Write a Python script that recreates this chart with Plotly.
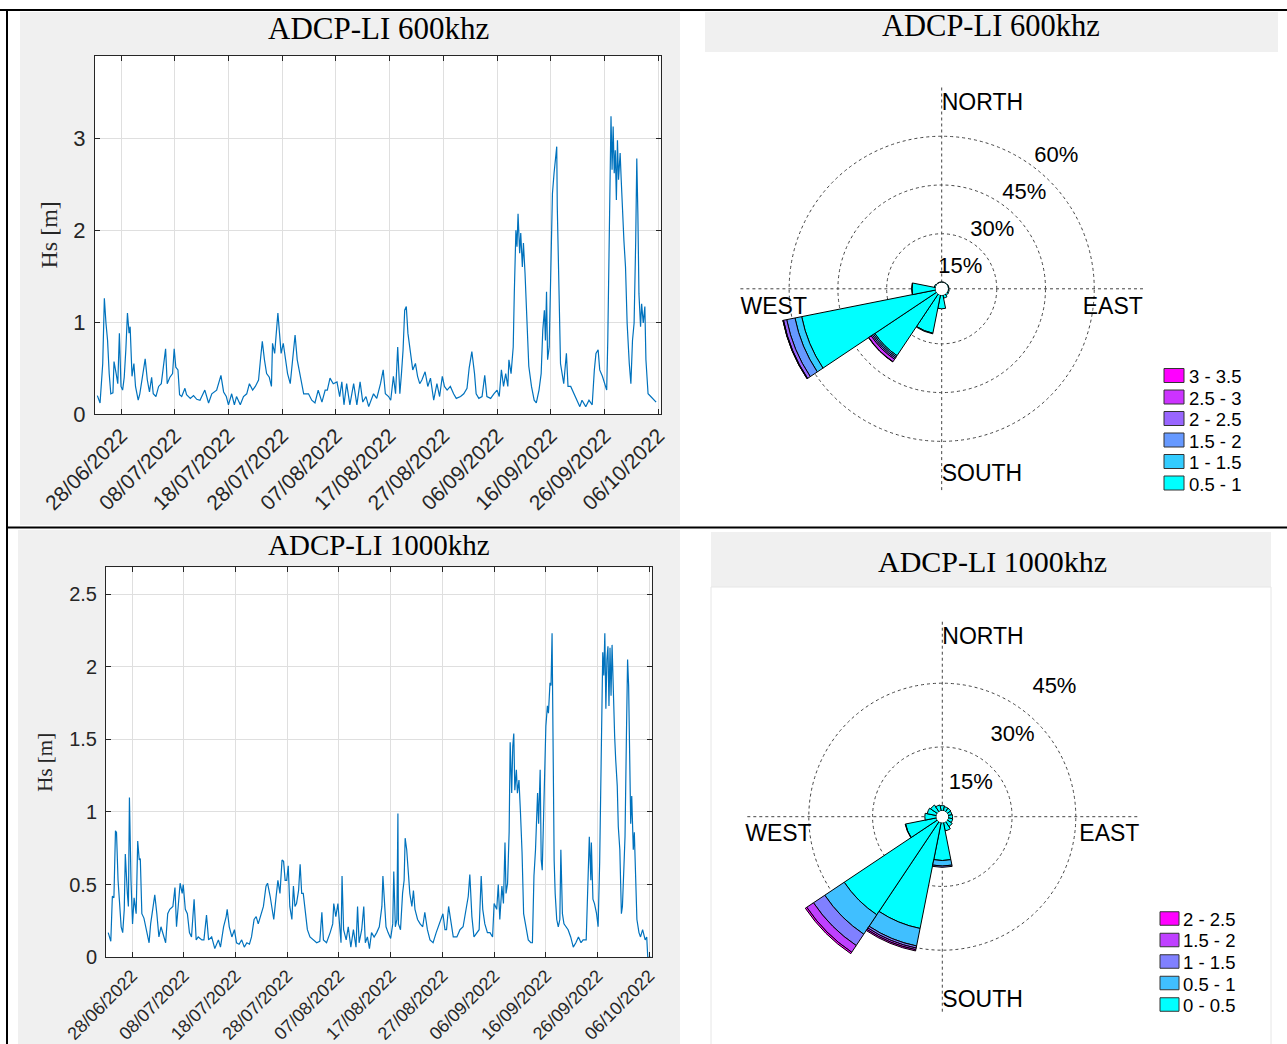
import pandas as pd
import plotly.graph_objects as go

W, H = 1287, 1044
START = pd.Timestamp("2022-06-23")

# ---------------- time series data (day offset from 23/06/2022, Hs in m) -------------
days_600 = [0.6, 1.1, 1.6, 1.9, 2.2, 2.5, 2.8, 3.1, 3.5, 3.7, 4.1, 4.4, 4.7, 5.0, 5.3, 5.6, 5.9, 6.2, 6.5, 6.7,
            7.05, 7.4, 7.7, 8.2, 8.5, 9.0, 9.5, 9.9, 10.3, 10.7, 11.0, 11.5, 12.0, 12.5, 12.9, 13.3, 13.6, 14.1,
            14.6, 14.9, 15.2, 15.6, 15.9, 16.3, 16.9, 17.2, 17.9, 18.5, 19.1, 19.7, 20.6, 21.3, 21.9, 22.8, 23.6,
            24.1, 24.6, 25.0, 25.6, 26.1, 26.5, 27.2, 27.8, 28.4, 28.9, 29.5, 30.0, 30.6, 31.0, 31.3, 31.7, 32.1,
            32.6, 33.0, 33.2, 33.6, 33.9, 34.2, 34.5, 34.8, 35.2, 35.7, 36.0, 36.5, 36.9, 37.4, 37.8, 38.3, 39.0,
            39.9, 40.5, 41.1, 41.7, 42.4, 43.0, 43.4, 43.9, 44.5, 45.2, 45.7, 46.1, 46.5, 47.0, 47.6, 48.3, 48.9,
            49.5, 50.0, 50.6, 51.1, 52.0, 52.6, 53.3, 53.8, 54.2, 54.8, 55.2, 55.7, 56.1, 56.5, 56.9, 57.2, 57.5,
            57.8, 58.1, 58.4, 58.7, 59.0, 59.3, 59.8, 60.2, 60.6, 61.0, 61.6, 62.1, 62.6, 63.2, 63.8, 64.3, 64.8,
            65.2, 65.7, 66.3, 66.9, 67.4, 68.2, 68.8, 69.4, 69.8, 70.3, 70.8, 71.1, 71.6, 72.2, 72.7, 73.1, 73.8,
            74.4, 75.0, 75.4, 75.8, 76.2, 76.6, 77.0, 77.2, 77.6, 78.0, 78.2, 78.5, 78.7, 78.9, 79.2, 79.4, 79.7,
            79.9, 80.2, 80.5, 80.9, 81.4, 81.9, 82.3, 82.8, 83.2, 83.5, 83.8, 84.0, 84.2, 84.4, 84.7, 84.9, 85.1,
            85.3, 85.6, 85.8, 86.1, 86.2, 86.5, 86.8, 87.1, 87.4, 87.9, 88.2, 88.7, 89.3, 89.9, 90.4, 90.8, 91.5,
            92.1, 92.7, 93.1, 93.4, 93.8, 94.1, 94.6, 95.1, 95.4, 95.6, 95.9, 96.1, 96.2, 96.4, 96.6, 96.8, 97.0,
            97.2, 97.4, 97.6, 97.9, 98.1, 98.4, 98.6, 98.9, 99.2, 99.6, 99.9, 100.2, 100.5, 100.8, 101.0, 101.2,
            101.4, 101.7, 101.9, 102.2, 102.5, 102.7, 103.1, 103.6, 104.0, 104.6]
hs_600 = [0.20, 0.12, 0.55, 1.26, 0.99, 0.80, 0.44, 0.22, 0.23, 0.57, 0.44, 0.33, 0.88, 0.30, 0.26, 0.40, 0.70,
          1.10, 0.88, 0.95, 0.41, 0.55, 0.30, 0.15, 0.22, 0.44, 0.60, 0.37, 0.24, 0.40, 0.22, 0.19, 0.30, 0.33,
          0.55, 0.71, 0.33, 0.40, 0.44, 0.71, 0.51, 0.48, 0.21, 0.19, 0.28, 0.21, 0.17, 0.20, 0.16, 0.15, 0.26,
          0.12, 0.22, 0.26, 0.42, 0.24, 0.19, 0.10, 0.22, 0.10, 0.19, 0.10, 0.19, 0.22, 0.33, 0.26, 0.30, 0.37,
          0.62, 0.79, 0.59, 0.44, 0.40, 0.30, 0.77, 0.66, 0.88, 1.10, 0.88, 0.66, 0.77, 0.59, 0.44, 0.33, 0.59,
          0.86, 0.59, 0.44, 0.22, 0.22, 0.15, 0.12, 0.26, 0.13, 0.26, 0.26, 0.39, 0.33, 0.35, 0.19, 0.35, 0.10,
          0.33, 0.10, 0.33, 0.10, 0.35, 0.13, 0.19, 0.08, 0.22, 0.17, 0.33, 0.48, 0.22, 0.19, 0.15, 0.41, 0.22,
          0.73, 0.22, 0.44, 0.70, 1.13, 1.17, 0.88, 0.73, 0.62, 0.48, 0.55, 0.41, 0.33, 0.37, 0.46, 0.30, 0.39,
          0.15, 0.33, 0.19, 0.41, 0.30, 0.26, 0.30, 0.22, 0.17, 0.19, 0.22, 0.28, 0.50, 0.68, 0.44, 0.22, 0.17,
          0.19, 0.42, 0.19, 0.17, 0.22, 0.26, 0.19, 0.48, 0.30, 0.44, 0.30, 0.59, 0.44, 0.73, 1.31, 2.00, 1.82,
          2.18, 1.75, 1.97, 1.60, 1.86, 1.53, 1.06, 0.52, 0.30, 0.15, 0.12, 0.26, 0.44, 0.91, 1.13, 0.80, 1.33,
          0.59, 0.73, 1.31, 1.64, 2.40, 2.62, 2.73, 2.91, 2.26, 1.28, 0.55, 0.44, 0.33, 0.66, 0.30, 0.30, 0.22,
          0.15, 0.08, 0.15, 0.08, 0.15, 0.10, 0.48, 0.66, 0.70, 0.48, 0.41, 0.30, 0.26, 0.80, 1.82, 2.69, 3.24,
          2.66, 3.13, 2.62, 2.87, 2.33, 2.98, 2.55, 2.84, 2.55, 2.04, 1.89, 1.60, 0.99, 0.55, 0.33, 0.80, 0.99,
          1.89, 2.78, 2.18, 1.31, 0.95, 1.20, 0.99, 1.17, 0.59, 0.22, 0.19, 0.17, 0.13]

days_1000 = [0.4, 0.9, 1.2, 1.5, 1.8, 2.0, 2.3, 2.6, 2.9, 3.2, 3.5, 3.7, 3.9, 4.1, 4.3, 4.5, 4.8, 5.1, 5.4, 5.8,
             6.1, 6.4, 6.6, 6.9, 7.3, 7.8, 8.3, 8.6, 9.0, 9.4, 9.8, 10.2, 10.6, 11.1, 11.5, 11.9, 12.3, 12.9,
             13.3, 13.6, 14.0, 14.3, 14.7, 14.9, 15.3, 15.7, 16.1, 16.5, 17.0, 17.4, 17.8, 18.5, 18.9, 19.4, 19.8,
             20.4, 21.0, 21.7, 22.1, 22.7, 23.2, 23.4, 23.8, 24.3, 24.8, 25.2, 25.7, 26.2, 26.7, 27.2, 27.7, 28.1,
             28.6, 29.0, 29.4, 29.9, 30.4, 30.9, 31.2, 31.7, 32.1, 32.4, 32.8, 33.2, 33.6, 34.0, 34.3, 34.6, 34.9,
             35.2, 35.5, 35.9, 36.2, 36.5, 36.8, 37.2, 37.5, 37.8, 38.1, 38.6, 38.9, 39.4, 40.1, 40.7, 41.3, 41.7,
             42.0, 42.6, 43.3, 43.8, 44.0, 44.4, 44.8, 45.1, 45.4, 45.6, 45.9, 46.4, 46.8, 47.3, 47.8, 48.3, 48.6,
             48.9, 49.4, 49.8, 50.1, 50.5, 50.9, 51.3, 51.8, 52.3, 52.8, 53.3, 53.5, 53.7, 54.1, 54.5, 55.0, 55.4,
             55.6, 55.9, 56.2, 56.4, 56.5, 56.9, 57.3, 57.6, 57.8, 58.1, 58.4, 58.7, 59.1, 59.4, 59.7, 60.2, 60.7,
             61.2, 61.6, 62.1, 62.6, 63.2, 63.8, 64.2, 64.7, 65.1, 65.5, 65.8, 66.2, 66.6, 67.1, 67.8, 68.4, 69.0,
             69.6, 70.0, 70.3, 70.7, 71.1, 71.6, 72.1, 72.5, 72.8, 73.2, 73.7, 74.2, 74.7, 75.0, 75.5, 75.8, 76.1,
             76.5, 76.8, 77.1, 77.3, 77.6, 77.9, 78.1, 78.4, 78.6, 78.8, 79.0, 79.3, 79.5, 79.8, 80.1, 80.4, 80.7,
             81.1, 81.6, 82.1, 82.4, 82.7, 83.0, 83.4, 83.6, 83.9, 84.1, 84.3, 84.5, 84.8, 85.0, 85.3, 85.5, 85.8,
             86.0, 86.2, 86.4, 86.6, 86.8, 87.1, 87.4, 87.7, 87.9, 88.2, 88.5, 88.9, 89.3, 89.8, 90.3, 90.8, 91.3,
             91.8, 92.2, 92.8, 93.0, 93.3, 93.4, 93.7, 93.8, 94.1, 94.4, 94.8, 95.1, 95.4, 95.6, 95.8, 96.0, 96.2,
             96.4, 96.6, 96.8, 97.0, 97.2, 97.4, 97.6, 97.8, 98.0, 98.3, 98.5, 98.8, 99.0, 99.3, 99.6, 99.8, 100.1,
             100.3, 100.6, 100.8, 101.0, 101.2, 101.4, 101.6, 101.9, 102.1, 102.4, 102.6, 103.0, 103.3, 103.7,
             104.2, 104.5, 104.7, 105.4]
hs_1000 = [0.17, 0.11, 0.42, 0.41, 0.87, 0.86, 0.53, 0.33, 0.21, 0.17, 0.33, 0.71, 0.53, 0.44, 0.35, 1.10, 0.53,
           0.23, 0.41, 0.30, 0.80, 0.67, 0.68, 0.30, 0.27, 0.19, 0.10, 0.23, 0.33, 0.43, 0.30, 0.14, 0.21, 0.14,
           0.10, 0.30, 0.33, 0.35, 0.48, 0.21, 0.38, 0.51, 0.44, 0.50, 0.33, 0.30, 0.17, 0.14, 0.40, 0.12, 0.14,
           0.12, 0.12, 0.29, 0.12, 0.14, 0.06, 0.12, 0.07, 0.21, 0.28, 0.33, 0.21, 0.14, 0.19, 0.10, 0.09, 0.12,
           0.07, 0.10, 0.09, 0.14, 0.26, 0.28, 0.23, 0.30, 0.35, 0.49, 0.51, 0.42, 0.33, 0.26, 0.40, 0.53, 0.44,
           0.67, 0.66, 0.53, 0.53, 0.63, 0.35, 0.26, 0.49, 0.35, 0.37, 0.46, 0.64, 0.44, 0.44, 0.30, 0.19, 0.14,
           0.12, 0.10, 0.11, 0.31, 0.12, 0.10, 0.17, 0.23, 0.37, 0.28, 0.37, 0.21, 0.10, 0.56, 0.19, 0.12, 0.21,
           0.07, 0.19, 0.07, 0.35, 0.10, 0.19, 0.35, 0.10, 0.14, 0.06, 0.17, 0.14, 0.17, 0.21, 0.35, 0.56, 0.44,
           0.21, 0.17, 0.13, 0.23, 0.59, 0.21, 0.26, 0.99, 0.23, 0.19, 0.44, 0.53, 0.82, 0.74, 0.60, 0.44, 0.35,
           0.46, 0.33, 0.26, 0.23, 0.21, 0.31, 0.19, 0.12, 0.10, 0.17, 0.21, 0.26, 0.30, 0.19, 0.19, 0.35, 0.26,
           0.14, 0.14, 0.19, 0.21, 0.35, 0.42, 0.57, 0.28, 0.14, 0.17, 0.19, 0.56, 0.33, 0.23, 0.17, 0.17, 0.14,
           0.37, 0.33, 0.50, 0.26, 0.49, 0.37, 0.79, 0.44, 0.51, 0.86, 1.48, 1.13, 1.45, 1.54, 1.15, 1.29, 1.13,
           1.22, 0.99, 0.72, 0.30, 0.21, 0.12, 0.10, 0.10, 0.56, 0.74, 1.13, 0.92, 1.29, 0.67, 0.60, 0.92, 1.29,
           1.59, 1.73, 1.68, 1.89, 1.87, 2.23, 1.13, 0.67, 0.44, 0.26, 0.21, 0.26, 0.74, 0.30, 0.23, 0.21, 0.19,
           0.14, 0.07, 0.10, 0.14, 0.10, 0.12, 0.12, 0.40, 0.63, 0.83, 0.53, 0.79, 0.40, 0.37, 0.30, 0.21, 0.65,
           1.13, 1.75, 2.10, 1.94, 2.23, 1.71, 2.05, 2.14, 1.73, 2.13, 1.80, 2.15, 1.82, 1.52, 1.36, 1.18, 0.90,
           0.74, 0.30, 0.35, 0.63, 0.83, 1.59, 2.05, 1.87, 1.25, 0.92, 1.11, 0.74, 0.86, 0.49, 0.26, 0.17, 0.14,
           0.19, 0.12, 0.14, 0.00, 0.00]

date_tick_labels = ["28/06/2022", "08/07/2022", "18/07/2022", "28/07/2022", "07/08/2022", "17/08/2022",
                    "27/08/2022", "06/09/2022", "16/09/2022", "26/09/2022", "06/10/2022"]
hs_ticks_600 = [0, 1, 2, 3]
hs_ticks_1000 = [0, 0.5, 1, 1.5, 2, 2.5]

# ---------------- wave roses (percentage of records per direction sector) ----------------
directions_deg = [0, 22.5, 45, 67.5, 90, 112.5, 135, 157.5, 180, 202.5, 225, 247.5, 270, 292.5, 315, 337.5]

bins_600 = ["0.5 - 1", "1 - 1.5", "1.5 - 2", "2 - 2.5", "2.5 - 3", "3 - 3.5"]
rose600_b1 = [0.2, 0.2, 0.2, 0.3, 0.3, 0.4, 0.5, 1.0, 4.2, 12.0, 22.8, 42.0, 7.2, 0.4, 0.2, 0.2]
rose600_b2 = [0, 0, 0, 0, 0, 0, 0, 0, 0, 0.2, 0.45, 2.1, 0.1, 0, 0, 0]
rose600_b3 = [0, 0, 0, 0, 0, 0, 0, 0, 0, 0, 0.45, 2.6, 0, 0, 0, 0]
rose600_b4 = [0, 0, 0, 0, 0, 0, 0, 0, 0, 0, 0.45, 1.0, 0, 0, 0, 0]
rose600_b5 = [0, 0, 0, 0, 0, 0, 0, 0, 0, 0, 0.9, 0.15, 0, 0, 0, 0]
rose600_b6 = [0, 0, 0, 0, 0, 0, 0, 0, 0, 0, 0.1, 0.05, 0, 0, 0, 0]
colors_600 = ["#00FFFF", "#33CCFF", "#6699FF", "#9966FF", "#CC33FF", "#FF00FF"]
rings_600 = [15, 30, 45, 60]

bins_1000 = ["0 - 0.5", "0.5 - 1", "1 - 1.5", "1.5 - 2", "2 - 2.5"]
rose1000_b1 = [1.2, 1.0, 1.0, 0.9, 1.0, 1.1, 1.4, 2.0, 8.9, 25.4, 26.35, 7.4, 2.7, 2.2, 1.9, 1.4]
rose1000_b2 = [0, 0, 0, 0, 0, 0, 0, 0, 1.3, 4.2, 5.5, 0.1, 0, 0, 0, 0]
rose1000_b3 = [0, 0, 0, 0, 0, 0, 0, 0, 0.3, 0.5, 3.2, 0, 0, 0, 0, 0]
rose1000_b4 = [0, 0, 0, 0, 0, 0, 0, 0, 0, 0.4, 1.9, 0, 0, 0, 0, 0]
rose1000_b5 = [0, 0, 0, 0, 0, 0, 0, 0, 0, 0.3, 0.4, 0, 0, 0, 0, 0]
colors_1000 = ["#00FFFF", "#40BFFF", "#8080FF", "#BF40FF", "#FF00FF"]
rings_1000 = [15, 30, 45]

compass_labels = ["NORTH", "EAST", "SOUTH", "WEST"]
compass_theta = [0, 90, 180, 270]
compass_pos = ["bottom right", "bottom left", "top right", "bottom right"]

titles = ["ADCP-LI 600khz", "ADCP-LI 600khz", "ADCP-LI 1000khz", "ADCP-LI 1000khz"]

# ---------------- helpers -------------------------------------------------------------
def px(x):
    return x / W


def py(y):
    return 1 - y / H


def to_dates(days):
    return [START + pd.Timedelta(days=d) for d in days]


tick_dates = [pd.to_datetime(t, format="%d/%m/%Y") for t in date_tick_labels]
SANS = "Liberation Sans, Arial, sans-serif"
SERIF = "Liberation Serif, Times New Roman, serif"
LINE_BLUE = "#0072BD"
AX_COL = "#262626"

fig = go.Figure()

fig.add_trace(go.Scatter(x=to_dates(days_600), y=hs_600, mode="lines", xaxis="x", yaxis="y",
                         line=dict(color=LINE_BLUE, width=1.2), showlegend=False))
fig.add_trace(go.Scatter(x=to_dates(days_1000), y=hs_1000, mode="lines", xaxis="x2", yaxis="y2",
                         line=dict(color=LINE_BLUE, width=1.2), showlegend=False))

for vals, col, name in zip([rose600_b1, rose600_b2, rose600_b3, rose600_b4, rose600_b5, rose600_b6],
                           colors_600, bins_600):
    fig.add_trace(go.Barpolar(r=vals, theta=directions_deg, width=22.5, subplot="polar", name=name,
                              marker=dict(color=col, line=dict(color="black", width=1)), showlegend=False))
for vals, col, name in zip([rose1000_b1, rose1000_b2, rose1000_b3, rose1000_b4, rose1000_b5],
                           colors_1000, bins_1000):
    fig.add_trace(go.Barpolar(r=vals, theta=directions_deg, width=22.5, subplot="polar2", name=name,
                              marker=dict(color=col, line=dict(color="black", width=1)), showlegend=False))

# ring labels and compass labels (label radius pulled inside the outer ring; E/W nudged below the axis)
for sub, rings, offs, n_in, s_in, tilt in [("polar", rings_600, 8.2, 1.5, 0.9, 2.4),
                                          ("polar2", rings_1000, 6.2, 1.6, 0.2, 2.1)]:
    fig.add_trace(go.Scatterpolar(r=[v - offs for v in rings], theta=[41] * len(rings),
                                  text=[f"{v}%" for v in rings], mode="text", subplot=sub,
                                  textfont=dict(family=SANS, size=22, color="black"), showlegend=False))
    rmax = rings[-1]
    radii = [rmax - n_in, rmax, rmax - s_in, rmax]
    thetas = [compass_theta[0], compass_theta[1] + tilt, compass_theta[2], compass_theta[3] - tilt]
    for lab, th, rr, pos in zip(compass_labels, thetas, radii, compass_pos):
        fig.add_trace(go.Scatterpolar(r=[rr], theta=[th], text=[lab], mode="text", subplot=sub,
                                      textposition=pos, textfont=dict(family=SANS, size=23, color="black"),
                                      showlegend=False))

# ---------------- axes ----------------------------------------------------------------
def xax(dom, rng, fsize):
    return dict(domain=dom, type="date", range=rng, tickvals=tick_dates, ticktext=date_tick_labels,
                tickangle=-45, showgrid=True, gridcolor="#dfdfdf", gridwidth=1, ticks="inside", ticklen=5,
                tickcolor=AX_COL, showline=True, linecolor=AX_COL, linewidth=1, mirror="allticks",
                zeroline=False, automargin=False, tickfont=dict(family=SANS, size=fsize, color=AX_COL))


def yax(dom, rng, tvals, fsize, tsize, standoff):
    return dict(domain=dom, range=rng, tickvals=tvals, showgrid=True, gridcolor="#dfdfdf", gridwidth=1,
                ticks="inside", ticklen=5, tickcolor=AX_COL, showline=True, linecolor=AX_COL, linewidth=1,
                mirror="allticks", zeroline=False, automargin=False, ticklabelstandoff=4,
                tickfont=dict(family=SANS, size=fsize, color=AX_COL),
                title=dict(text="Hs [m]", font=dict(family=SERIF, size=tsize, color=AX_COL), standoff=standoff))


def polar_layout(dom_x, dom_y, hole, rings):
    return dict(domain=dict(x=dom_x, y=dom_y), hole=hole, bgcolor="rgba(0,0,0,0)", barmode="stack", bargap=0,
                radialaxis=dict(range=[0, rings[-1]], tickvals=rings, showticklabels=False, ticks="",
                                showline=False, gridcolor="#444444", griddash="dot", gridwidth=1,
                                layer="below traces"),
                angularaxis=dict(rotation=90, direction="clockwise", tickvals=[0, 90, 180, 270],
                                 showticklabels=False, ticks="", showline=False, gridcolor="#444444",
                                 griddash="dot", gridwidth=1, layer="below traces"))


fig.update_layout(
    width=W, height=H, margin=dict(l=0, r=0, t=0, b=0, autoexpand=False), paper_bgcolor="white",
    plot_bgcolor="white", showlegend=False,
    xaxis=dict(anchor="y", **xax([px(95), px(660.7)], [START + pd.Timedelta(days=0.16), START + pd.Timedelta(days=105.45)], 21)),
    yaxis=dict(anchor="x", **yax([py(414), py(55.7)], [0, 3.9], hs_ticks_600, 22, 24, 8)),
    xaxis2=dict(anchor="y2", **xax([px(106), px(651.7)], [START + pd.Timedelta(days=-0.03), START + pd.Timedelta(days=105.46)], 18)),
    yaxis2=dict(anchor="x2", **yax([py(957.3), py(567.3)], [0, 2.684], hs_ticks_1000, 20, 21, 10)),
    polar=polar_layout([px(740.4), px(1143.0)], [py(490.1), py(87.5)], 0.0313, rings_600),
    polar2=polar_layout([px(745.05), px(1139.55)], [py(1013.95), py(619.45)], 0.0304, rings_1000),
)

# ---------------- panel backgrounds / frame ------------------------------------------
shapes = []
def rect(x0, y0, x1, y1, fill, line=None, layer="below", lw=0):
    return dict(type="rect", xref="paper", yref="paper", x0=px(x0), x1=px(x1), y0=py(y1), y1=py(y0),
                fillcolor=fill, line=dict(color=line or "rgba(0,0,0,0)", width=lw), layer=layer)

GREY = "#F0F0F0"
shapes.append(rect(20, 12, 680, 525, GREY))
shapes.append(rect(705, 12, 1278, 52, GREY))
shapes.append(rect(18, 530, 680, 1044, GREY))
shapes.append(rect(711, 532, 1271, 587, GREY))
shapes.append(rect(711, 587, 1271, 1046, "rgba(0,0,0,0)", line="#e6e6e6", lw=1))
for xr, yr in [("x domain", "y domain"), ("x2 domain", "y2 domain")]:
    shapes.append(dict(type="rect", xref=xr, yref=yr, x0=0, x1=1, y0=0, y1=1, fillcolor="white",
                       line=dict(width=0), layer="below"))
# frame lines
for (x0, y0, x1, y1) in [(0, 10, W, 10), (7, 527.5, W, 527.5), (7, 10, 7, H)]:
    shapes.append(dict(type="line", xref="paper", yref="paper", x0=px(x0), x1=px(x1), y0=py(y0), y1=py(y1),
                       line=dict(color="black", width=2), layer="above"))

annotations = []
for txt, (cx, cy, fs) in zip(titles, [(378, 28, 31), (991, 26, 30.5), (379, 545, 29), (992, 561, 30)]):
    annotations.append(dict(text=txt, x=px(cx), y=py(cy), xref="paper", yref="paper", showarrow=False,
                            xanchor="center", yanchor="middle", font=dict(family=SERIF, size=fs, color="black")))

# custom compact legends (MATLAB style)
for labels, cols, sx0, sx1, yc0, pitch, sh, tx in [
        (bins_600, colors_600, 1164, 1184, 375.5, 21.5, 14, 1188),
        (bins_1000, colors_1000, 1160, 1179, 918.5, 21.5, 13.5, 1182)]:
    n = len(labels)
    for i in range(n):
        k = n - 1 - i
        yc = yc0 + i * pitch
        shapes.append(dict(type="rect", xref="paper", yref="paper", x0=px(sx0), x1=px(sx1),
                           y0=py(yc + sh / 2), y1=py(yc - sh / 2), fillcolor=cols[k],
                           line=dict(color="#333333", width=1), layer="above"))
        annotations.append(dict(text=labels[k], x=px(tx), y=py(yc + 1), xref="paper", yref="paper",
                                showarrow=False, xanchor="left", yanchor="middle", borderpad=0,
                                font=dict(family=SANS, size=18.5, color="black")))

fig.update_layout(shapes=shapes, annotations=annotations)
fig.write_html("out.html")
